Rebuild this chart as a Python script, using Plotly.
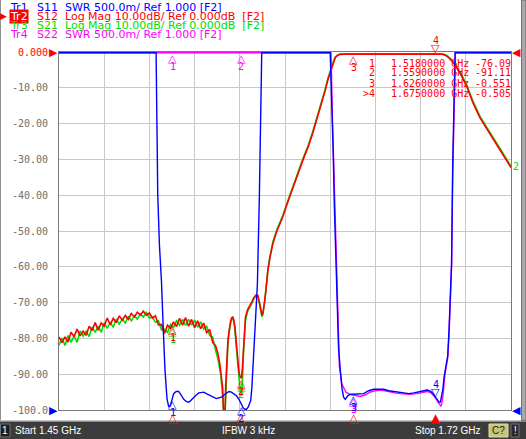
import numpy as np
import plotly.graph_objects as go

# ---------------- data ----------------
F_START, F_STOP = 1.45, 1.72          # GHz
MARKER_F = [1.518, 1.559, 1.626, 1.675]
MARKER_S12 = [-76.09, -91.11, -0.551, -0.505]
MARKER_S21 = [-76.5, -92.0, -0.55, -0.50]
MARKER_S11 = [1.14, 1.06, 1.21, 1.16]
MARKER_S22 = [6.0, 6.0, 1.19, 1.15]
MARKER_LABELS = ["1", "2", "3", ">4"]
MARKER_FTXT = ["1.5180000", "1.5590000", "1.6260000", "1.6750000"]
MARKER_VTXT = ["-76.09", "-91.11", "-0.551", "-0.505"]

FREQ_LO = [1.4500, 1.4518, 1.4536, 1.4554, 1.4572, 1.4590, 1.4608, 1.4626, 1.4644, 1.4662,
           1.4680, 1.4698, 1.4716, 1.4734, 1.4752, 1.4770, 1.4788, 1.4806, 1.4824, 1.4842,
           1.4860, 1.4878, 1.4896, 1.4914, 1.4932, 1.4950, 1.4968, 1.4986, 1.5004, 1.5022,
           1.5040, 1.5058, 1.5076, 1.5094, 1.5112, 1.5130, 1.5148, 1.5166, 1.5184, 1.5202,
           1.5220, 1.5238, 1.5256, 1.5274, 1.5292, 1.5310, 1.5328, 1.5346, 1.5364, 1.5382,
           1.5400, 1.5418, 1.5436]
S12_LO = [-79.6, -81.2, -79.6, -81.0, -78.3, -79.5, -77.4, -79.3, -78.0, -79.1,
          -76.6, -77.8, -75.6, -77.7, -75.7, -76.6, -74.3, -76.2, -74.4, -75.6,
          -73.7, -74.9, -73.6, -74.7, -73.0, -74.0, -72.7, -73.5, -72.4, -73.5,
          -72.9, -74.3, -73.7, -76.2, -76.1, -78.6, -76.3, -77.2, -75.4, -76.7,
          -74.4, -76.3, -74.2, -76.6, -74.7, -77.0, -75.1, -77.3, -75.7, -78.4,
          -77.5, -81.1, -82.1]
S21_LO = [-81.9, -79.9, -82.0, -79.2, -81.1, -79.3, -81.1, -77.9, -79.4, -78.0,
          -79.5, -76.8, -78.3, -76.6, -78.3, -75.6, -77.2, -75.6, -76.9, -74.6,
          -76.0, -74.6, -75.7, -73.8, -75.1, -73.7, -74.6, -73.2, -74.0, -72.8,
          -74.3, -74.0, -75.5, -75.1, -77.6, -77.5, -78.3, -76.1, -76.9, -75.1,
          -76.3, -74.7, -76.4, -74.7, -76.3, -74.9, -76.9, -75.4, -77.4, -76.6,
          -79.2, -79.7, -83.5]

FREQ_HI = [1.5448, 1.5460, 1.5466, 1.5472, 1.5478, 1.5484, 1.5490, 1.5496, 1.5502, 1.5508,
           1.5514, 1.5520, 1.5526, 1.5532, 1.5538, 1.5544, 1.5550, 1.5556, 1.5562, 1.5568,
           1.5574, 1.5580, 1.5590, 1.5596, 1.5602, 1.5608, 1.5614, 1.5626, 1.5640, 1.5652,
           1.5664, 1.5676, 1.5688, 1.5694, 1.5700, 1.5706, 1.5712, 1.5718, 1.5724, 1.5730,
           1.5736, 1.5742, 1.5748, 1.5760, 1.5778, 1.5800, 1.5837, 1.5870, 1.5897, 1.5930,
           1.5957, 1.5990, 1.6016, 1.6045, 1.6070, 1.6090, 1.6106, 1.6120, 1.6130, 1.6140,
           1.6150, 1.6165, 1.6180, 1.6220, 1.6260, 1.6350, 1.6450, 1.6550, 1.6650, 1.6750,
           1.6790, 1.6808, 1.6824, 1.6845, 1.6866, 1.6901, 1.6937, 1.6973, 1.7015, 1.7075,
           1.7134, 1.7200]
S12_HI = [-84.0, -87.0, -89.0, -91.5, -94.0, -103.0, -104.0, -93.0, -86.0, -81.5,
          -78.5, -76.5, -75.0, -74.2, -74.0, -74.8, -76.5, -79.5, -83.0, -86.5,
          -89.0, -90.5, -91.11, -88.0, -82.0, -77.0, -74.0, -72.0, -71.0, -69.8,
          -68.6, -67.9, -68.0, -69.0, -70.5, -72.0, -73.5, -73.0, -71.5, -69.0,
          -66.5, -63.5, -61.0, -57.5, -53.4, -50.2, -46.0, -41.5, -37.7, -33.7,
          -30.2, -26.3, -22.6, -18.2, -14.2, -10.8, -7.8, -5.6, -4.2, -2.8,
          -1.6, -0.9, -0.65, -0.55, -0.551, -0.52, -0.5, -0.49, -0.5, -0.505,
          -0.6, -0.9, -1.4, -2.4, -3.6, -6.4, -9.8, -14.2, -18.4, -22.9,
          -27.4, -32.3]
S21_HI = [-85.5, -88.5, -90.0, -93.0, -97.0, -104.0, -104.0, -96.0, -88.0, -82.5,
          -79.0, -77.0, -75.5, -74.6, -74.5, -75.3, -77.0, -80.5, -84.5, -88.0,
          -91.0, -93.5, -96.0, -92.0, -84.0, -78.0, -74.8, -72.6, -71.5, -70.2,
          -68.9, -68.3, -68.4, -69.5, -71.0, -72.6, -74.0, -73.4, -71.8, -69.2,
          -66.3, -63.1, -60.6, -57.1, -53.0, -49.8, -45.6, -41.1, -37.3, -33.3,
          -29.8, -25.9, -22.2, -17.8, -13.8, -10.4, -7.4, -5.2, -3.9, -2.5,
          -1.4, -0.8, -0.6, -0.55, -0.55, -0.52, -0.5, -0.49, -0.5, -0.5,
          -0.55, -0.8, -1.2, -2.1, -3.2, -6.0, -9.4, -13.8, -18.0, -22.5,
          -27.0, -31.9]

S11_F = [1.4500, 1.5080, 1.5085, 1.5090, 1.5100, 1.5112, 1.5125, 1.5133, 1.5145, 1.5155,
         1.5165, 1.5175, 1.5185, 1.5200, 1.5215, 1.5230, 1.5245, 1.5260, 1.5275, 1.5290,
         1.5305, 1.5320, 1.5335, 1.5350, 1.5365, 1.5380, 1.5395, 1.5410, 1.5425, 1.5440,
         1.5455, 1.5470, 1.5485, 1.5500, 1.5515, 1.5530, 1.5545, 1.5560, 1.5575, 1.5590,
         1.5600, 1.5610, 1.5620, 1.5630, 1.5640, 1.5645, 1.5652, 1.5660, 1.5668, 1.5678,
         1.5685, 1.5697, 1.5705, 1.5711, 1.6120, 1.6130, 1.6138, 1.6145, 1.6155, 1.6163,
         1.6170, 1.6180, 1.6190, 1.6200, 1.6210, 1.6225, 1.6240, 1.6260, 1.6290, 1.6320,
         1.6350, 1.6380, 1.6410, 1.6440, 1.6470, 1.6500, 1.6530, 1.6560, 1.6590, 1.6620,
         1.6650, 1.6680, 1.6700, 1.6720, 1.6735, 1.6750, 1.6760, 1.6770, 1.6778, 1.6785,
         1.6793, 1.6800, 1.6808, 1.6815, 1.6822, 1.6830, 1.6838, 1.6845, 1.6852, 1.6858,
         1.6866, 1.7200]
S11_SWR = [6.0, 6.0, 5.0, 4.0, 3.3, 2.8, 2.0, 1.56, 1.15, 1.04,
           1.05, 1.14, 1.22, 1.25, 1.25, 1.20, 1.14, 1.11, 1.10, 1.13,
           1.17, 1.20, 1.23, 1.24, 1.24, 1.22, 1.20, 1.18, 1.16, 1.15,
           1.16, 1.17, 1.20, 1.23, 1.25, 1.24, 1.21, 1.19, 1.14, 1.06,
           1.02, 1.00, 1.00, 1.03, 1.10, 1.12, 1.30, 1.65, 2.00, 2.35,
           2.75, 4.00, 5.15, 6.0, 6.0, 5.3, 4.6, 3.84, 3.05, 2.22,
           1.85, 1.56, 1.30, 1.17, 1.14, 1.19, 1.21, 1.21, 1.21, 1.22,
           1.26, 1.28, 1.28, 1.28, 1.26, 1.25, 1.24, 1.22, 1.22, 1.23,
           1.24, 1.26, 1.27, 1.25, 1.22, 1.16, 1.13, 1.10, 1.10, 1.20,
           1.28, 1.45, 1.56, 1.63, 1.75, 2.12, 2.60, 3.05, 4.45, 5.15,
           6.0, 6.0]

S22_F = [1.4500, 1.6125, 1.6132, 1.6140, 1.6147, 1.6156, 1.6165, 1.6175, 1.6190, 1.6214,
         1.6238, 1.6268, 1.6298, 1.6328, 1.6358, 1.6388, 1.6417, 1.6447, 1.6477, 1.6507,
         1.6537, 1.6567, 1.6597, 1.6638, 1.6674, 1.6698, 1.6722, 1.6740, 1.6752, 1.6764,
         1.6776, 1.6782, 1.6788, 1.6794, 1.6806, 1.6815, 1.6822, 1.6830, 1.6838, 1.6845,
         1.6852, 1.6858, 1.6868, 1.7200]
S22_SWR = [6.0, 6.0, 5.2, 4.5, 3.7, 2.9, 2.1, 1.6, 1.35, 1.24,
           1.21, 1.19, 1.18, 1.20, 1.24, 1.26, 1.27, 1.26, 1.24, 1.23,
           1.22, 1.21, 1.21, 1.22, 1.24, 1.25, 1.23, 1.19, 1.15, 1.10,
           1.06, 1.04, 1.10, 1.20, 1.50, 1.62, 1.72, 2.05, 2.55, 3.00,
           4.30, 5.10, 6.0, 6.0]

Y_TICKS = [0, -10, -20, -30, -40, -50, -60, -70, -80, -90, -100]
Y_TICKTEXT = ["0.000", "-10.00", "-20.00", "-30.00", "-40.00", "-50.00",
              "-60.00", "-70.00", "-80.00", "-90.00", "-100.0"]

HEADER = [
    ("Tr1", "S11  SWR 500.0m/ Ref 1.000 [F2]", "#0000ff"),
    ("Tr2", "S12  Log Mag 10.00dB/ Ref 0.000dB  [F2]", "#ff0000"),
    ("Tr3", "S21  Log Mag 10.00dB/ Ref 0.000dB  [F2]", "#00dd00"),
    ("Tr4", "S22  SWR 500.0m/ Ref 1.000 [F2]", "#ff00ff"),
]

# ---------------- layout helpers ----------------
W, H = 526, 439
L, R, T, B = 59, 511, 52, 410


def px(x):
    return (x - L) / (R - L)


def py(y):
    return (B - y) / (B - T)


RED, GREEN, BLUE, MAG = "#ff0000", "#00dd00", "#0000ff", "#ff00ff"
S12 = S12_LO + S12_HI
S21 = S21_LO + S21_HI
F_ALL = FREQ_LO + FREQ_HI

fig = go.Figure()
fig.add_trace(go.Scatter(x=S22_F, y=np.clip(S22_SWR, 1, 6), yaxis="y2", mode="lines",
                         line=dict(color=MAG, width=1.4), hoverinfo="skip"))
fig.add_trace(go.Scatter(x=S11_F, y=np.clip(S11_SWR, 1, 6), yaxis="y2", mode="lines",
                         line=dict(color=BLUE, width=1.4), hoverinfo="skip"))
fig.add_trace(go.Scatter(x=F_ALL, y=S21, mode="lines",
                         line=dict(color=GREEN, width=1.6), hoverinfo="skip"))
fig.add_trace(go.Scatter(x=F_ALL, y=S12, mode="lines",
                         line=dict(color=RED, width=1.6), hoverinfo="skip"))

ann = []
MONO = "DejaVu Sans Mono"
SANS = "DejaVu Sans"


def marker_up(x, y, yref, color, num):
    ann.append(dict(x=x, y=y, xref="x", yref=yref, text="△", showarrow=False,
                    yanchor="top", font=dict(color=color, size=11, family=SANS), yshift=3))
    ann.append(dict(x=x, y=y, xref="x", yref=yref, text=num, showarrow=False,
                    yanchor="top", font=dict(color=color, size=10, family=MONO), yshift=-6))


def marker_down(x, y, yref, color, num):
    ann.append(dict(x=x, y=y, xref="x", yref=yref, text="▽", showarrow=False,
                    yanchor="bottom", font=dict(color=color, size=11, family=SANS), yshift=-3))
    ann.append(dict(x=x, y=y, xref="x", yref=yref, text=num, showarrow=False,
                    yanchor="bottom", font=dict(color=color, size=10, family=MONO), yshift=6))


for i, f in enumerate(MARKER_F):
    n = str(i + 1)
    if i < 3:
        marker_up(f, MARKER_S22[i], "y2", MAG, n)
for i, f in enumerate(MARKER_F):
    n = str(i + 1)
    if i < 3:
        marker_up(f, MARKER_S11[i], "y2", BLUE, n)
    else:
        marker_down(f, MARKER_S11[i], "y2", BLUE, n)
for i, f in enumerate(MARKER_F[:2]):
    marker_up(f, MARKER_S21[i], "y", GREEN, str(i + 1))
for i, f in enumerate(MARKER_F):
    n = str(i + 1)
    if i < 3:
        marker_up(f, MARKER_S12[i], "y", RED, n)
    else:
        marker_down(f, MARKER_S12[i], "y", RED, n)

# stimulus markers below the axis
for i, f in enumerate(MARKER_F):
    ann.append(dict(x=f, y=-100, xref="x", yref="y", text="▲" if i == 3 else "△",
                    showarrow=False, yanchor="top", yshift=1,
                    font=dict(color=RED, size=12, family=SANS)))

# reference level arrows
for yv, col in [(0, RED), (-100, BLUE)]:
    ann.append(dict(x=F_START, y=yv, xref="x", yref="y", text="▶", showarrow=False,
                    xanchor="right", yanchor="middle", xshift=1,
                    font=dict(color=col, size=11, family=SANS)))
    ann.append(dict(x=F_STOP, y=yv, xref="x", yref="y", text="◀", showarrow=False,
                    xanchor="left", yanchor="middle", xshift=-1,
                    font=dict(color=col, size=11, family=SANS)))

# green out-of-range marker label at right edge
ann.append(dict(x=F_STOP, y=S21[-1], xref="x", yref="y", text="2", showarrow=False,
                xanchor="left", yanchor="middle", xshift=0,
                font=dict(color=GREEN, size=10, family=MONO)))

# marker table
for i in range(4):
    yy = py(63 + 10 * i)
    ann.append(dict(x=px(377), y=yy, xref="paper", yref="paper", text=MARKER_LABELS[i],
                    showarrow=False, xanchor="right", yanchor="middle",
                    font=dict(color=RED, size=10, family=MONO)))
    ann.append(dict(x=px(389), y=yy, xref="paper", yref="paper",
                    text=MARKER_FTXT[i] + " GHz", showarrow=False, xanchor="left",
                    yanchor="middle", font=dict(color=RED, size=10, family=MONO)))
    ann.append(dict(x=px(513), y=yy, xref="paper", yref="paper", text=MARKER_VTXT[i],
                    showarrow=False, xanchor="right", yanchor="middle",
                    font=dict(color=RED, size=10, family=MONO)))

# header
for i, (tr, rest, col) in enumerate(HEADER):
    yy = py(7 + 9.2 * i)
    active = (i == 1)
    ann.append(dict(x=px(9), y=yy, xref="paper", yref="paper", text=tr, showarrow=False,
                    xanchor="left", yanchor="middle", borderpad=0,
                    bgcolor=RED if active else None,
                    font=dict(color="white" if active else col, size=11, family=SANS)))
    ann.append(dict(x=px(36), y=yy, xref="paper", yref="paper", text=rest, showarrow=False,
                    xanchor="left", yanchor="middle", borderpad=0,
                    font=dict(color=col, size=11, family=SANS)))
ann.append(dict(x=px(8), y=py(16.2), xref="paper", yref="paper", text="▶", showarrow=False,
                xanchor="right", yanchor="middle", borderpad=0,
                font=dict(color=RED, size=9, family=SANS)))

# status bar
shapes = [
    dict(type="rect", xref="paper", yref="paper", x0=px(0), x1=px(526), y0=py(439), y1=py(422),
         fillcolor="#3c3c3c", line=dict(width=0), layer="above"),
    dict(type="rect", xref="paper", yref="paper", x0=px(0), x1=px(526), y0=py(422), y1=py(420.5),
         fillcolor="#8c8c8c", line=dict(width=0), layer="above"),
    dict(type="rect", xref="paper", yref="paper", x0=px(0.5), x1=px(10), y0=py(437), y1=py(424),
         fillcolor="#1e1e1e", line=dict(color="#707070", width=1), layer="above"),
    dict(type="rect", xref="paper", yref="paper", x0=px(489), x1=px(508), y0=py(437), y1=py(424),
         fillcolor="#c8c478", line=dict(color="#e0e0a0", width=1), layer="above"),
    dict(type="rect", xref="paper", yref="paper", x0=px(511), x1=px(519), y0=py(437), y1=py(424),
         fillcolor="#2a2a2a", line=dict(color="#707070", width=1), layer="above"),
    dict(type="rect", xref="paper", yref="paper", x0=px(521.5), x1=px(526), y0=py(420.5), y1=py(0),
         fillcolor="#a8a8a8", line=dict(color="#707070", width=1), layer="above"),
    dict(type="line", xref="paper", yref="paper", x0=px(0.5), x1=px(0.5), y0=py(420.5), y1=py(0),
         line=dict(color="#909090", width=1), layer="above"),
]
for txt, x, anchor, col in [("1", 5, "center", "white"), ("Start 1.45 GHz", 14, "left", "white"),
                            ("IFBW 3 kHz", 248, "center", "white"),
                            ("Stop 1.72 GHz", 482, "right", "white"),
                            ("C?", 498.5, "center", "#202020"), ("!", 515, "center", "white")]:
    ann.append(dict(x=px(x), y=py(430.5), xref="paper", yref="paper", text=txt, showarrow=False,
                    xanchor=anchor, yanchor="middle", borderpad=0,
                    font=dict(color=col, size=10, family="Liberation Sans")))

fig.update_layout(
    width=W, height=H,
    margin=dict(l=L, r=W - R, t=T, b=H - B),
    paper_bgcolor="white", plot_bgcolor="white",
    showlegend=False,
    xaxis=dict(range=[F_START, F_STOP], tick0=F_START, dtick=(F_STOP - F_START) / 10,
               showticklabels=False, ticks="", showgrid=True, gridcolor="#c8c8c8", gridwidth=1,
               zeroline=False, showline=True, linecolor="#7a7a7a", linewidth=1, mirror=True,
               fixedrange=True),
    yaxis=dict(range=[-100, 0], tickvals=Y_TICKS,
               ticktext=['<span style="color:#ff0000">' + Y_TICKTEXT[0] + '</span>'] + Y_TICKTEXT[1:],
               ticks="", showgrid=True, gridcolor="#c8c8c8", gridwidth=1, zeroline=False,
               showline=True, linecolor="#7a7a7a", linewidth=1, mirror=True,
               tickfont=dict(family=MONO, size=10, color="#6e6e6e"), ticklabelstandoff=8,
               fixedrange=True),
    yaxis2=dict(range=[0.99, 6.01], overlaying="y", visible=False, fixedrange=True),
    annotations=ann,
    shapes=shapes,
)

fig.write_html("out.html", config={"displayModeBar": False},
               post_script="document.body.style.margin='0';document.body.style.overflow='hidden';")
